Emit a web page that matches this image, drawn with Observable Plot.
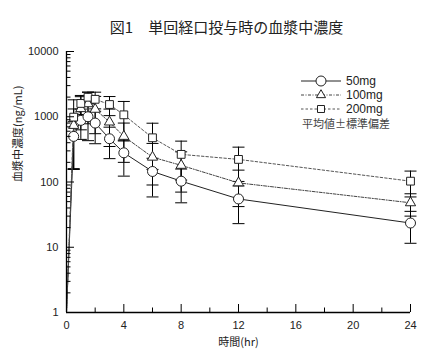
<!DOCTYPE html>
<html><head><meta charset="utf-8">
<script src="https://cdn.jsdelivr.net/npm/d3@7"></script>
<script src="https://cdn.jsdelivr.net/npm/@observablehq/plot@0.6"></script>
<style>
body{margin:0;background:#fff;}
#wrap{position:relative;width:434px;height:356px;overflow:hidden;background:#fff;}
#title{position:absolute;left:0;top:17px;width:434px;padding-left:19px;box-sizing:border-box;text-align:center;font-family:"Noto Sans CJK JP",sans-serif;font-size:15px;color:#222;line-height:20px;white-space:pre;}
#chart{position:absolute;left:0;top:40px;}
#legend{position:absolute;left:0;top:0;}
</style></head>
<body>
<div id="wrap">
  <div id="title">図1　単回経口投与時の血漿中濃度</div>
  <div id="chart"></div>
  <svg id="legend" width="434" height="356"></svg>
</div>
<script>
// ---- data ----
const titleText = "図1　単回経口投与時の血漿中濃度";
const xLabel = "時間(hr)";
const yLabel = "血漿中濃度(ng/mL)";
const seriesNames = ["50mg", "100mg", "200mg"];
const legendNote = "平均値±標準偏差";
const times = [0, 0.5, 1, 1.5, 2, 3, 4, 6, 8, 12, 24];
const mean50  = [1, 500, 880, 1000, 800, 460, 280, 145, 103, 55, 23.5];
const sd50    = [0, 340, 430, 570, 414, 232, 157, 86, 55, 32, 12];
const mean100 = [1, 736, 1330, 1580, 1300, 830, 500, 240, 180, 97, 48];
const sd100   = [0, 580, 700, 800, 750, 480, 300, 150, 110, 55, 18];
const mean200 = [1, 987, 1600, 1990, 1850, 1540, 1070, 476, 265, 222, 103];
const sd200   = [0, 830, 520, 390, 530, 500, 645, 320, 158, 120, 44];
const yTicks = [1, 10, 100, 1000, 10000];
const xTicks = [0, 4, 8, 12, 16, 20, 24];
const xMinorTicks = [2, 6, 10, 14, 18, 22];

const means = [mean50, mean100, mean200];
const sds = [sd50, sd100, sd200];
const symbols = ["circle", "triangle", "square"];
const dashes = [null, "3,1.5,1,1.5", "2.5,2"];
const strokes = ["#222", "#444", "#555"];
const radii = [5, 3.8, 4.4];

const rows = [];
seriesNames.forEach((s, i) => times.forEach((t, j) => rows.push({series: s, t, mean: means[i][j], sd: sds[i][j], lo: means[i][j] - sds[i][j], hi: means[i][j] + sds[i][j]})));
const errRows = rows.filter(d => d.sd > 0);
const ptRows = rows.filter(d => d.t > 0);

const yMinor = [];
for (let e = 0; e < 4; e++) for (let k = 2; k <= 9; k++) yMinor.push(k * Math.pow(10, e));

const cap = {draw(ctx) { ctx.moveTo(-6, 0); ctx.lineTo(6, 0); }};
const font = '"Liberation Sans Narrow","Liberation Sans",sans-serif';

const marks = [];
// error bars
marks.push(Plot.ruleX(errRows, {x: "t", y1: "lo", y2: "hi", stroke: "#000", strokeWidth: 1}));
marks.push(Plot.dot(errRows, {x: "t", y: "lo", symbol: cap, stroke: "#000", strokeWidth: 1}));
marks.push(Plot.dot(errRows, {x: "t", y: "hi", symbol: cap, stroke: "#000", strokeWidth: 1}));
// lines & markers
seriesNames.forEach((s, i) => {
  const d = rows.filter(r => r.series === s);
  marks.push(Plot.line(d, {x: "t", y: "mean", stroke: strokes[i], strokeWidth: 1, strokeDasharray: dashes[i]}));
});
seriesNames.forEach((s, i) => {
  const d = ptRows.filter(r => r.series === s);
  marks.push(Plot.dot(d, {x: "t", y: "mean", symbol: symbols[i], r: radii[i], fill: "#fff", stroke: "#222", strokeWidth: 1}));
});
// axes
marks.push(Plot.ruleX([0], {stroke: "#000", strokeWidth: 1.3}));
marks.push(Plot.ruleY([1], {stroke: "#000", strokeWidth: 1.3}));
marks.push(Plot.axisY({ticks: yTicks, tickSize: -8, fill: "none", stroke: "#000", label: null}));
marks.push(Plot.axisY({ticks: yMinor, tickSize: -4.5, fill: "none", stroke: "#000", label: null}));
marks.push(Plot.axisY({ticks: yTicks, tickSize: 0, tickPadding: 8, tickFormat: d => String(d), fill: "#222", label: null, fontSize: 11}));
marks.push(Plot.axisX({ticks: xTicks, tickSize: -8, fill: "none", stroke: "#000", label: null}));
marks.push(Plot.axisX({ticks: xMinorTicks, tickSize: -4.5, fill: "none", stroke: "#000", label: null}));
marks.push(Plot.axisX({ticks: xTicks, tickSize: 0, tickPadding: 9, tickFormat: d => String(d), fill: "#222", label: null}));
marks.push(Plot.text([yLabel], {frameAnchor: "left", rotate: -90, dx: -48, fill: "#222", fontSize: 11, fontFamily: '"Noto Sans CJK JP",sans-serif'}));
marks.push(Plot.text([xLabel], {frameAnchor: "bottom", dy: 33, fill: "#222", fontSize: 11, fontFamily: '"Noto Sans CJK JP",sans-serif'}));

const plot = Plot.plot({
  width: 434, height: 316,
  marginTop: 11, marginBottom: 44, marginLeft: 66, marginRight: 24,
  style: {fontFamily: font, fontSize: "11px", background: "transparent", color: "#222"},
  x: {domain: [0, 24]},
  y: {type: "log", domain: [1, 10000]},
  marks
});
document.getElementById("chart").appendChild(plot);

// legend
const lg = d3.select("#legend");
const rowsY = [81, 95, 109];
const symFns = [d3.symbolCircle, d3.symbolTriangle, d3.symbolSquare];
seriesNames.forEach((s, i) => {
  const y = rowsY[i];
  lg.append("line").attr("x1", 301).attr("x2", 341).attr("y1", y).attr("y2", y)
    .attr("stroke", strokes[i]).attr("stroke-width", 1).attr("stroke-dasharray", dashes[i]);
  lg.append("path").attr("d", d3.symbol(symFns[i], Math.PI * radii[i] * radii[i] * (i === 0 ? 1 : 0.8))())
    .attr("transform", `translate(321,${y})`).attr("fill", "#fff").attr("stroke", "#222");
  lg.append("text").attr("x", 346).attr("y", y).attr("dy", "0.36em")
    .attr("font-family", font).attr("font-size", 12).attr("fill", "#222").text(s);
});
lg.append("text").attr("x", 302).attr("y", 124).attr("dy", "0.36em")
  .attr("font-family", '"Noto Sans CJK JP",sans-serif').attr("font-size", 11).attr("fill", "#444").text(legendNote);
</script>
</body></html>
